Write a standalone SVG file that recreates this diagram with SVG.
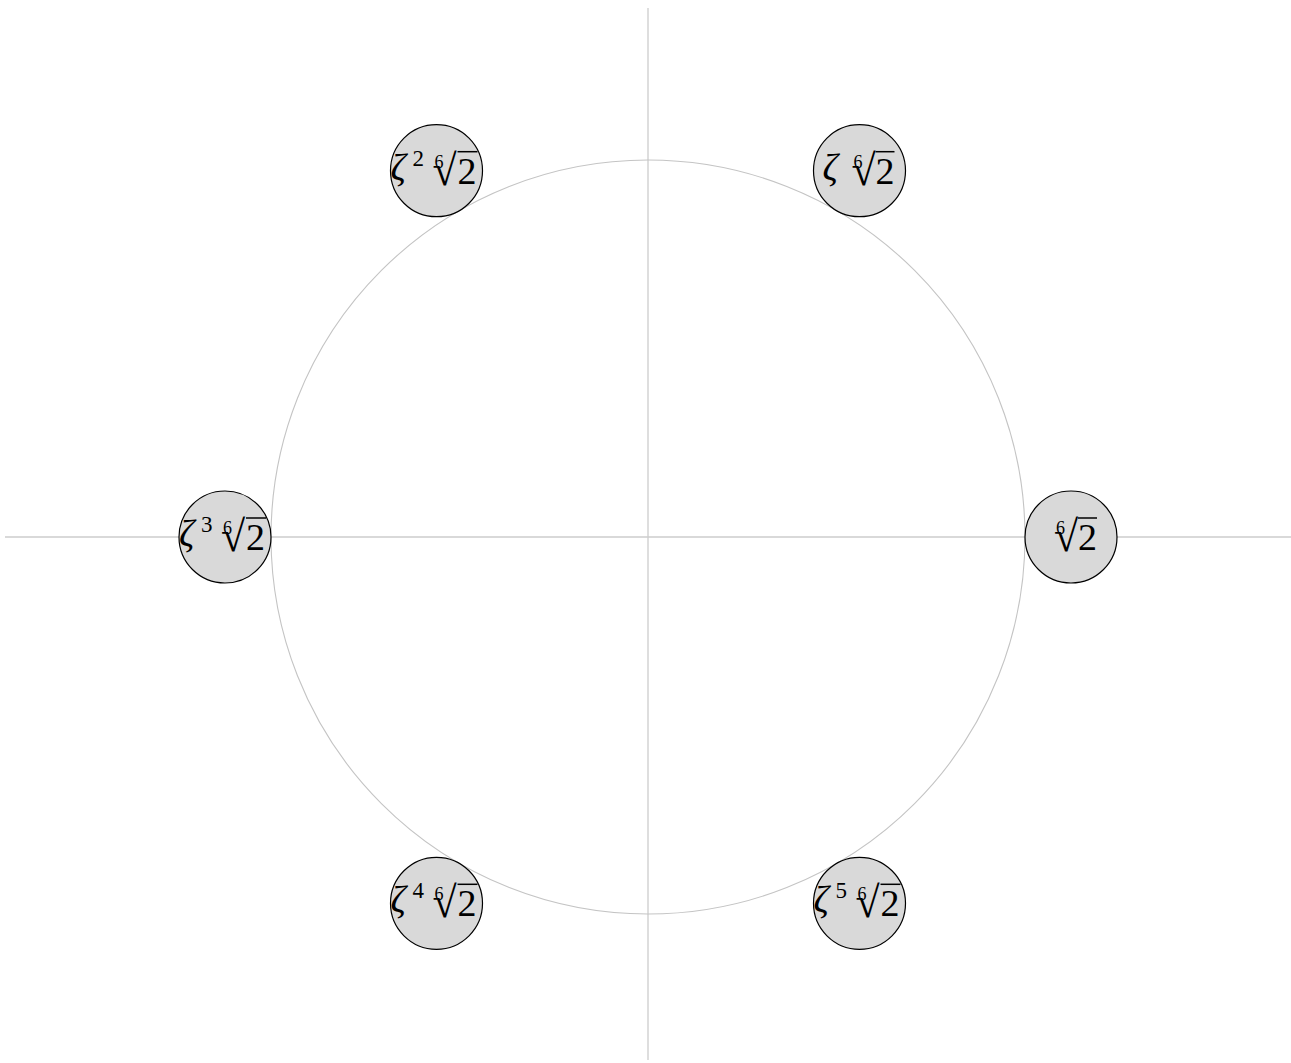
<svg xmlns="http://www.w3.org/2000/svg" width="1291" height="1063" viewBox="0 0 1291 1063">
<style>
.axis{stroke:#cccccc;stroke-width:1.3;fill:none}
.ring{stroke:#c4c4c4;stroke-width:1.1;fill:none}
.node{fill:#d9d9d9;stroke:#000;stroke-width:1.2}
.t{font-family:"Liberation Serif","DejaVu Serif",serif;fill:#000}
.z{font-style:italic;font-size:38px}
.big{font-size:38px}
.sup{font-size:23px}
.idx{font-size:18px}
.rad{font-size:44px}
.bar{stroke:#000;stroke-width:1.5}
</style>
<g id="connectors">
<line class="axis" x1="5" y1="537" x2="1291" y2="537"/>
<line class="axis" x1="648" y1="8" x2="648" y2="1060"/>
<circle class="ring" cx="648" cy="537" r="377"/>
</g>
<g id="n0" transform="translate(1071,537)">
<circle class="node" r="46"/>
<text class="t"><tspan class="idx" x="-15" y="-3">6</tspan><tspan class="rad" x="-17" y="14">√</tspan><tspan class="big" x="7" y="13">2</tspan></text>
<line class="bar" x1="7" y1="-19" x2="26" y2="-19"/>
</g>
<g id="n1" transform="translate(859.5,170.7)">
<circle class="node" r="46"/>
<text class="t"><tspan class="z" x="-37" y="9">ζ</tspan><tspan class="idx" x="-6" y="-3">6</tspan><tspan class="rad" x="-8" y="14">√</tspan><tspan class="big" x="16" y="13">2</tspan></text>
<line class="bar" x1="16" y1="-19" x2="35" y2="-19"/>
</g>
<g id="n2" transform="translate(436.5,170.7)">
<circle class="node" r="46"/>
<text class="t"><tspan class="z" x="-46" y="9">ζ</tspan><tspan class="sup" x="-24" y="-5">2</tspan><tspan class="idx" x="-2" y="-3">6</tspan><tspan class="rad" x="-4" y="14">√</tspan><tspan class="big" x="21" y="13">2</tspan></text>
<line class="bar" x1="21" y1="-19" x2="41" y2="-19"/>
</g>
<g id="n3" transform="translate(225,537)">
<circle class="node" r="46"/>
<text class="t"><tspan class="z" x="-46" y="9">ζ</tspan><tspan class="sup" x="-24" y="-5">3</tspan><tspan class="idx" x="-2" y="-3">6</tspan><tspan class="rad" x="-4" y="14">√</tspan><tspan class="big" x="21" y="13">2</tspan></text>
<line class="bar" x1="21" y1="-19" x2="41" y2="-19"/>
</g>
<g id="n4" transform="translate(436.5,903.3)">
<circle class="node" r="46"/>
<text class="t"><tspan class="z" x="-46" y="9">ζ</tspan><tspan class="sup" x="-24" y="-5">4</tspan><tspan class="idx" x="-2" y="-3">6</tspan><tspan class="rad" x="-4" y="14">√</tspan><tspan class="big" x="21" y="13">2</tspan></text>
<line class="bar" x1="21" y1="-19" x2="41" y2="-19"/>
</g>
<g id="n5" transform="translate(859.5,903.3)">
<circle class="node" r="46"/>
<text class="t"><tspan class="z" x="-46" y="9">ζ</tspan><tspan class="sup" x="-24" y="-5">5</tspan><tspan class="idx" x="-2" y="-3">6</tspan><tspan class="rad" x="-4" y="14">√</tspan><tspan class="big" x="21" y="13">2</tspan></text>
<line class="bar" x1="21" y1="-19" x2="41" y2="-19"/>
</g>
</svg>
